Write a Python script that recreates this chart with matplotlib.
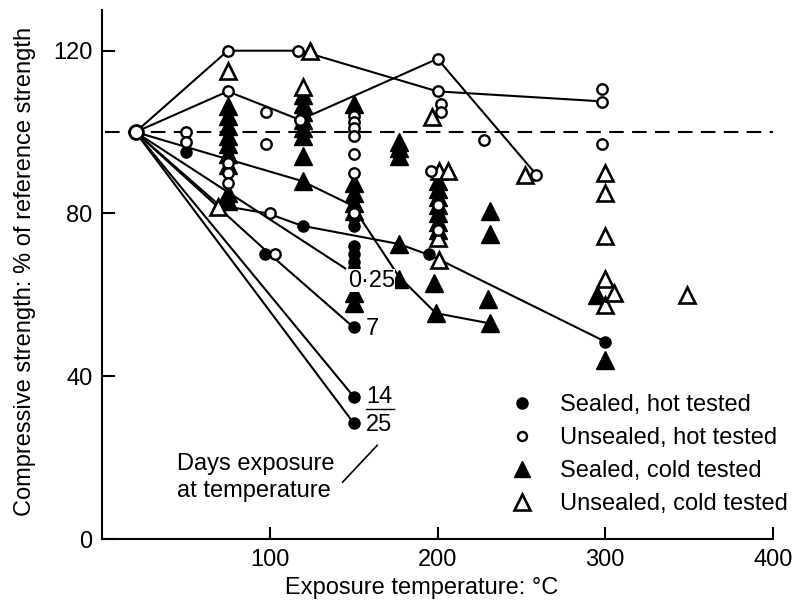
import matplotlib
matplotlib.use("Agg")
import matplotlib.pyplot as plt
from matplotlib.lines import Line2D

plt.rcParams['font.family'] = ['Liberation Sans', 'DejaVu Sans']

# start point (reference condition)
start_x = [20]
start_y = [100]

# connecting lines
line_a_x = [20, 75, 118, 200, 300]
line_a_y = [100, 120, 120, 110, 107.5]
line_b_x = [20, 75, 118, 200, 258]
line_b_y = [100, 110, 103, 118, 90]
line_c_x = [20, 119, 149, 177, 199, 231]
line_c_y = [100, 88, 82, 64.5, 55.5, 53]
line_d_x = [20, 70, 99, 119, 177, 197, 300]
line_d_y = [100, 82, 80, 77, 72.5, 69.5, 48.5]
days_025_x = [20, 145]
days_025_y = [100, 66.5]
days_7_x = [20, 100, 150]
days_7_y = [100, 70, 52]
days_14_x = [20, 150]
days_14_y = [100, 35]
days_25_x = [20, 150]
days_25_y = [100, 28.5]

# sealed, hot tested
sh_x = [50, 97, 120, 150, 150, 150, 150, 150, 150, 150, 150, 150, 195, 300]
sh_y = [95, 70, 77, 79, 77, 72, 70, 68, 66.5, 52, 35, 28.5, 70, 48.5]

# unsealed, hot tested
uh_x = [50, 50, 75, 75, 75, 75, 75, 98, 98, 100, 103, 117, 118,
        150, 150, 150, 150, 150, 150, 150,
        200, 200, 202, 202, 196, 200, 200, 228, 259, 298, 298, 298]
uh_y = [100, 97.5, 120, 110, 92.5, 90, 87.5, 105, 97, 80, 70, 120, 103,
        104, 102.5, 101, 99, 94.5, 90, 80,
        118, 110, 107, 105, 90.5, 82, 76, 98, 89.5, 110.5, 107.5, 97]

# sealed, cold tested
sc_x = [75, 75, 75, 75, 75, 75, 75, 75, 75,
        120, 120, 120, 120, 120, 120, 120, 120,
        150, 150, 150, 150, 150, 150, 150,
        177, 177, 177, 177, 177,
        200, 200, 200, 200, 200, 200, 200, 198, 199,
        231, 231, 230, 231, 295, 300]
sc_y = [106.5, 104, 101.5, 99, 97, 94.5, 92, 85, 83,
        109, 107, 105, 103, 101, 99, 94, 88,
        107, 87.5, 85, 82.5, 80.5, 60.5, 58,
        97.5, 96, 94, 72.5, 64,
        88, 86, 84, 82, 80, 78, 76, 63, 55.5,
        80.5, 75, 59, 53, 60, 44]

# unsealed, cold tested
uc_x = [69, 75, 124, 120, 197, 201, 206, 200, 201, 252,
        300, 300, 300, 300, 300, 305, 349]
uc_y = [81.5, 115, 120, 111, 103.7, 90.5, 90.5, 74, 68.5, 89.5,
        90, 85, 74.5, 64, 57.5, 60.5, 60]

x_ticks = [100, 200, 300, 400]
y_ticks = [0, 40, 80, 120]

fig = plt.figure(figsize=(7.95, 6.01), dpi=100)
ax = fig.add_axes([102 / 795, 62 / 601, 671 / 795, 529 / 601])

lw = 1.5
ax.axhline(100, xmin=0.005, color='black', lw=lw, dashes=(7, 4), zorder=1)
for xs, ys in [(line_a_x, line_a_y), (line_b_x, line_b_y), (line_c_x, line_c_y),
               (line_d_x, line_d_y), (days_025_x, days_025_y), (days_7_x, days_7_y),
               (days_14_x, days_14_y), (days_25_x, days_25_y)]:
    ax.plot(xs, ys, color='black', lw=lw, zorder=2)

ax.plot(sc_x, sc_y, ls='none', marker='^', ms=12.5, color='black', zorder=3)
ax.plot(sh_x, sh_y, ls='none', marker='o', ms=8, color='black', zorder=4)
ax.plot(uc_x, uc_y, ls='none', marker='^', ms=12, mfc='white', mec='black',
        mew=1.9, zorder=5)
ax.plot(uh_x, uh_y, ls='none', marker='o', ms=7.5, mfc='white', mec='black',
        mew=1.7, zorder=6)
ax.plot(start_x, start_y, ls='none', marker='o', ms=10, mfc='white', mec='black',
        mew=2, zorder=7)

# labels for days of exposure
fs = 17
ax.text(146.5, 63.5, "0·25", fontsize=fs, va='center', ha='left', zorder=10,
        bbox=dict(fc='white', ec='none', pad=0.3))
ax.text(157, 51.5, "7", fontsize=fs, va='center', ha='left')
ax.text(157.5, 35, "14", fontsize=fs, va='center', ha='left')
ax.plot([157.5, 174], [32, 32], color='black', lw=1)
ax.text(157.5, 28, "25", fontsize=fs, va='center', ha='left')
ax.text(44.5, 15.2, "Days exposure\nat temperature", fontsize=fs, va='center',
        ha='left', linespacing=1.3)
ax.plot([164, 143.5], [23, 14], color='black', lw=1.2)

handles = [
    Line2D([], [], ls='none', marker='o', ms=8, color='black'),
    Line2D([], [], ls='none', marker='o', ms=6.5, mfc='white', mec='black', mew=1.7),
    Line2D([], [], ls='none', marker='^', ms=12, color='black'),
    Line2D([], [], ls='none', marker='^', ms=11.5, mfc='white', mec='black', mew=1.9),
]
labels = ["Sealed, hot tested", "Unsealed, hot tested",
          "Sealed, cold tested", "Unsealed, cold tested"]
ax.legend(handles, labels, loc='upper left', frameon=False, fontsize=fs,
          bbox_to_anchor=(510 / 795, 1 - 394 / 601), bbox_transform=fig.transFigure,
          borderpad=0, borderaxespad=0, handlelength=1.0, handletextpad=1.1,
          labelspacing=0.47)

ax.set_xlim(0, 400)
ax.set_ylim(0, 130)
ax.set_xticks(x_ticks)
ax.set_yticks(y_ticks)
ax.tick_params(direction='in', length=9, width=1.5, labelsize=fs, pad=7)
for side in ['top', 'right']:
    ax.spines[side].set_visible(False)
for side in ['left', 'bottom']:
    ax.spines[side].set_linewidth(1.5)

ax.set_xlabel("Exposure temperature: °C", fontsize=fs, va='top')
ax.xaxis.set_label_coords(0.477, -0.072)
ax.set_ylabel("Compressive strength: % of reference strength", fontsize=fs, va='center')
ax.yaxis.set_label_coords(-0.115, 0.505)

fig.savefig("out.png", dpi=100)
